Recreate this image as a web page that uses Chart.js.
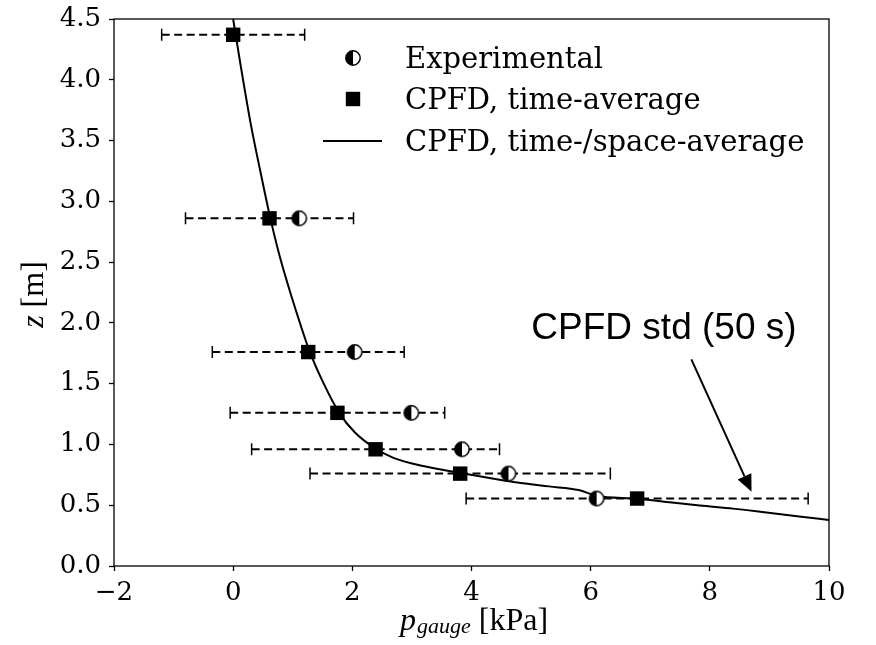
<!DOCTYPE html>
<html><head><meta charset="utf-8">
<script src="https://cdn.jsdelivr.net/npm/chart.js@4.4.1/dist/chart.umd.min.js"></script>
<style>html,body{margin:0;padding:0;background:#fff;} #wrap{width:876px;height:645px;position:relative;}</style>
</head><body><div id="wrap"><canvas id="c" width="876" height="645"></canvas></div>
<script>
// ---- data ----
const xTicks = [-2, 0, 2, 4, 6, 8, 10];
const yTicks = [0, 0.5, 1.0, 1.5, 2.0, 2.5, 3.0, 3.5, 4.0, 4.5];
const cpfdZ = [4.37, 2.86, 1.76, 1.26, 0.96, 0.76, 0.555];
const cpfdP = [0.00, 0.61, 1.26, 1.75, 2.39, 3.81, 6.78];
const cpfdStd = [1.20, 1.41, 1.61, 1.80, 2.08, 2.52, 2.87];
const expZ = [2.86, 1.76, 1.26, 0.96, 0.76, 0.555];
const expP = [1.11, 2.04, 2.99, 3.84, 4.62, 6.10];
const curveP = [-0.03, 0.00, 0.045, 0.115, 0.29, 0.455, 0.62, 0.78, 0.99, 1.12, 1.28, 1.52, 1.78, 2.04, 2.39, 2.69, 3.21, 3.82, 4.47, 4.80, 5.30, 5.80, 6.10, 6.77, 7.40, 7.83, 8.39, 8.95, 9.50, 10.00, 10.20];
const curveZ = [4.59, 4.50, 4.36, 4.15, 3.65, 3.25, 2.87, 2.55, 2.20, 2.00, 1.77, 1.50, 1.26, 1.10, 0.965, 0.89, 0.82, 0.765, 0.71, 0.685, 0.655, 0.625, 0.578, 0.553, 0.52, 0.497, 0.472, 0.44, 0.408, 0.378, 0.366];
const seriesNames = ['Experimental', 'CPFD, time-average', 'CPFD, time-/space-average'];
const noteText = 'CPFD std (50 s)';
const notePos = [7.23, 1.87];
const arrowFrom = [7.69, 1.70];
const arrowTo = [8.70, 0.61];

function halfCircle(r) {
  const s = Math.ceil(2 * r + 3);
  const c = document.createElement('canvas');
  c.width = s; c.height = s;
  const g = c.getContext('2d');
  const cx = s / 2, cy = s / 2;
  g.beginPath(); g.arc(cx, cy, r, 0, 2 * Math.PI); g.fillStyle = '#fff'; g.fill();
  g.beginPath(); g.arc(cx, cy, r, Math.PI / 2, 3 * Math.PI / 2); g.closePath(); g.fillStyle = '#000'; g.fill();
  g.beginPath(); g.arc(cx, cy, r, 0, 2 * Math.PI); g.lineWidth = 1.5; g.strokeStyle = '#000'; g.stroke();
  return c;
}
const halfImg = halfCircle(7.2);

const tickFont = { family: '"DejaVu Serif"', size: 26 };

const extras = {
  id: 'extras',
  beforeDatasetsDraw(chart) {
    const ctx = chart.ctx, xs = chart.scales.x, ys = chart.scales.y;
    ctx.save();
    ctx.strokeStyle = '#000';
    for (let i = 0; i < cpfdP.length; i++) {
      const x1 = xs.getPixelForValue(cpfdP[i] - cpfdStd[i]);
      const x2 = xs.getPixelForValue(cpfdP[i] + cpfdStd[i]);
      const y = ys.getPixelForValue(cpfdZ[i]);
      ctx.lineWidth = 2;
      ctx.setLineDash([8, 4.5]);
      ctx.beginPath(); ctx.moveTo(x1, y); ctx.lineTo(x2, y); ctx.stroke();
      ctx.setLineDash([]);
      ctx.lineWidth = 1.5;
      ctx.beginPath();
      ctx.moveTo(x1, y - 6); ctx.lineTo(x1, y + 6);
      ctx.moveTo(x2, y - 6); ctx.lineTo(x2, y + 6);
      ctx.stroke();
    }
    ctx.restore();
  },
  afterDraw(chart) {
    const ctx = chart.ctx, xs = chart.scales.x, ys = chart.scales.y, a = chart.chartArea;
    ctx.save();
    // frame
    ctx.strokeStyle = '#000'; ctx.lineWidth = 1.3;
    ctx.strokeRect(a.left, a.top, a.right - a.left, a.bottom - a.top);
    // legend
    const hx = a.left + 239, tx = a.left + 291;
    const rows = [a.top + 39, a.top + 80, a.top + 122];
    ctx.drawImage(halfImg, hx - halfImg.width / 2, rows[0] - halfImg.height / 2);
    ctx.fillStyle = '#000';
    ctx.fillRect(hx - 7.2, rows[1] - 7.2, 14.4, 14.4);
    ctx.lineWidth = 2; ctx.beginPath(); ctx.moveTo(a.left + 209, rows[2]); ctx.lineTo(a.left + 268, rows[2]); ctx.stroke();
    ctx.font = '29px "DejaVu Serif"'; ctx.textBaseline = 'alphabetic'; ctx.textAlign = 'left';
    for (let i = 0; i < 3; i++) ctx.fillText(seriesNames[i], tx, rows[i] + 10);
    // annotation
    ctx.font = '37px "Liberation Sans"'; ctx.textAlign = 'center';
    ctx.fillText(noteText, xs.getPixelForValue(notePos[0]), ys.getPixelForValue(notePos[1]));
    const ax1 = xs.getPixelForValue(arrowFrom[0]), ay1 = ys.getPixelForValue(arrowFrom[1]);
    const ax2 = xs.getPixelForValue(arrowTo[0]), ay2 = ys.getPixelForValue(arrowTo[1]);
    const ang = Math.atan2(ay2 - ay1, ax2 - ax1), hl = 17, hw = 7.5;
    const bx = ax2 - hl * Math.cos(ang), by = ay2 - hl * Math.sin(ang);
    ctx.lineWidth = 2; ctx.beginPath(); ctx.moveTo(ax1, ay1); ctx.lineTo(bx, by); ctx.stroke();
    ctx.beginPath(); ctx.moveTo(ax2, ay2);
    ctx.lineTo(bx + hw * Math.sin(ang), by - hw * Math.cos(ang));
    ctx.lineTo(bx - hw * Math.sin(ang), by + hw * Math.cos(ang));
    ctx.closePath(); ctx.fill();
    // x title
    const fMain = '32px "Liberation Serif"', fIt = 'italic 32px "Liberation Serif"', fSub = 'italic 22px "Liberation Serif"';
    ctx.textAlign = 'left'; ctx.textBaseline = 'alphabetic';
    ctx.font = fIt; const wp = ctx.measureText('p').width;
    ctx.font = fSub; const wg = ctx.measureText('gauge').width;
    ctx.font = fMain; const wk = ctx.measureText(' [kPa]').width;
    let sx = (a.left + a.right) / 2 - (wp + wg + wk) / 2 + 2;
    const by0 = 630;
    ctx.font = fIt; ctx.fillText('p', sx, by0); sx += wp + 1;
    ctx.font = fSub; ctx.fillText('gauge', sx, by0 + 3); sx += wg;
    ctx.font = fMain; ctx.fillText(' [kPa]', sx, by0);
    // y title
    ctx.translate(43, (a.top + a.bottom) / 2 + 2);
    ctx.rotate(-Math.PI / 2);
    ctx.font = fIt; const wz = ctx.measureText('z').width;
    ctx.font = fMain; const wm = ctx.measureText(' [m]').width;
    let sy = -(wz + wm) / 2;
    ctx.font = fIt; ctx.fillText('z', sy, 0); sy += wz;
    ctx.font = fMain; ctx.fillText(' [m]', sy, 0);
    ctx.restore();
  }
};

new Chart(document.getElementById('c'), {
  type: 'scatter',
  data: {
    datasets: [
      { label: seriesNames[2], data: curveP.map((p, i) => ({ x: p, y: curveZ[i] })), showLine: true,
        borderColor: '#000', borderWidth: 2, pointRadius: 0, cubicInterpolationMode: 'monotone', order: 3 },
      { label: seriesNames[1], data: cpfdP.map((p, i) => ({ x: p, y: cpfdZ[i] })), pointStyle: 'rect',
        pointRadius: 10.2, backgroundColor: '#000', borderColor: '#000', borderWidth: 0, order: 2 },
      { label: seriesNames[0], data: expP.map((p, i) => ({ x: p, y: expZ[i] })), pointStyle: halfImg,
        pointRadius: 8, order: 1 }
    ]
  },
  options: {
    responsive: false, animation: false,
    layout: { padding: { left: 0, right: 47, top: 19, bottom: 0 } },
    plugins: { legend: { display: false }, tooltip: { enabled: false } },
    scales: {
      x: {
        type: 'linear', min: -2, max: 10,
        afterBuildTicks: s => { s.ticks = xTicks.map(v => ({ value: v })); },
        afterFit: s => { s.height = 79; s.paddingLeft = 0; s.paddingRight = 0; },
        ticks: { font: tickFont, color: '#000', padding: 7, callback: v => (v < 0 ? '\u2212' + Math.abs(v) : String(v)) },
        grid: { display: true, drawOnChartArea: false, drawTicks: true, tickLength: 5, tickColor: '#000', tickWidth: 1.3 },
        border: { display: false }
      },
      y: {
        type: 'linear', min: 0, max: 4.5,
        afterBuildTicks: s => { s.ticks = yTicks.map(v => ({ value: v })); },
        afterFit: s => { s.width = 114; s.paddingTop = 0; s.paddingBottom = 0; },
        ticks: { font: tickFont, color: '#000', padding: 8, callback: v => Number(v).toFixed(1) },
        grid: { display: true, drawOnChartArea: false, drawTicks: true, tickLength: 5, tickColor: '#000', tickWidth: 1.3 },
        border: { display: false }
      }
    }
  },
  plugins: [extras]
});
</script>
</body></html>
